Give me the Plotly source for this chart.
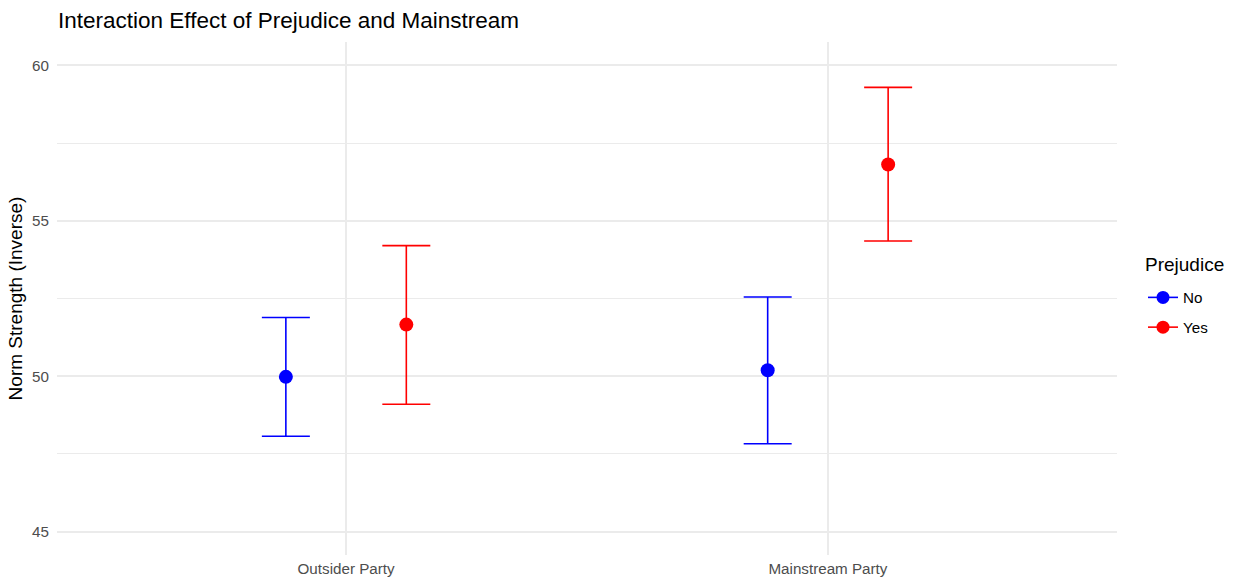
import plotly.graph_objects as go

# Estimated means and 95% confidence limits by party type and prejudice
categories = ["Outsider Party", "Mainstream Party"]
groups = ["No", "Yes"]
colors = {"No": "#0000FF", "Yes": "#FF0000"}

mean_no = [49.98, 50.19]
lower_no = [48.07, 47.83]
upper_no = [51.89, 52.55]

mean_yes = [51.66, 56.81]
lower_yes = [49.10, 54.35]
upper_yes = [54.20, 59.29]

y_ticks = [45, 50, 55, 60]

series = {
    "No": (mean_no, lower_no, upper_no),
    "Yes": (mean_yes, lower_yes, upper_yes),
}
dodge = {"No": -0.125, "Yes": 0.125}

FONT = "Liberation Sans, Arial, Helvetica, sans-serif"
W, H = 1236, 579

fig = go.Figure()
for i, g in enumerate(groups):
    m, lo, hi = series[g]
    xs = [k + 1 + dodge[g] for k in range(len(categories))]
    fig.add_trace(go.Scatter(
        x=xs, y=m, mode="markers",
        marker=dict(color=colors[g], size=14),
        error_y=dict(
            type="data", symmetric=False,
            array=[h - v for h, v in zip(hi, m)],
            arrayminus=[v - l for v, l in zip(m, lo)],
            color=colors[g], thickness=1.6, width=24,
        ),
        showlegend=False, hoverinfo="skip",
    ))
    # legend key: point with a short line through it
    fig.add_trace(go.Scatter(
        x=[None], y=[None], mode="lines+markers", name=g,
        marker=dict(color=colors[g], size=13),
        line=dict(color=colors[g], width=1.6),
        legendgroup=g,
    ))

fig.update_layout(
    width=W, height=H,
    margin=dict(l=57, r=119, t=42, b=24),
    paper_bgcolor="white", plot_bgcolor="white",
    font=dict(family=FONT, color="#000000"),
    title=dict(
        text="Interaction Effect of Prejudice and Mainstream",
        x=58 / W, xref="container", xanchor="left",
        y=1 - 20 / H, yref="container", yanchor="middle",
        font=dict(size=22.5, color="#000000"),
    ),
    xaxis=dict(
        range=[0.4, 2.6],
        tickvals=[1, 2], ticktext=categories,
        showgrid=True, gridcolor="#EBEBEB", gridwidth=1.9,
        zeroline=False, showline=False, ticks="",
        tickfont=dict(size=15.2, color="#4D4D4D"),
        ticklabelstandoff=3,
        automargin=False,
    ),
    yaxis=dict(
        range=[44.25, 60.75],
        tickvals=y_ticks,
        showgrid=True, gridcolor="#EBEBEB", gridwidth=1.9,
        minor=dict(dtick=2.5, tick0=45, showgrid=True,
                   gridcolor="#EBEBEB", gridwidth=1),
        zeroline=False, showline=False, ticks="",
        tickfont=dict(size=15.2, color="#4D4D4D"),
        ticklabelstandoff=7,
        automargin=False,
        title=dict(text="Norm Strength (Inverse)",
                   font=dict(size=19, color="#000000"), standoff=4),
    ),
    legend=dict(
        font=dict(size=15.2, color="#000000"),
        xref="container", x=1143 / W, xanchor="left",
        yref="container", y=1 - 281 / H, yanchor="top",
        tracegroupgap=7,
        bgcolor="rgba(0,0,0,0)",
    ),
    annotations=[dict(
        text="Prejudice", showarrow=False,
        xref="paper", yref="paper",
        x=(1143 - 57) / 1060, xanchor="left",
        y=(555 - 264) / 513, yanchor="middle",
        font=dict(size=19, color="#000000"),
    )],
)

fig.write_html("out.html")
